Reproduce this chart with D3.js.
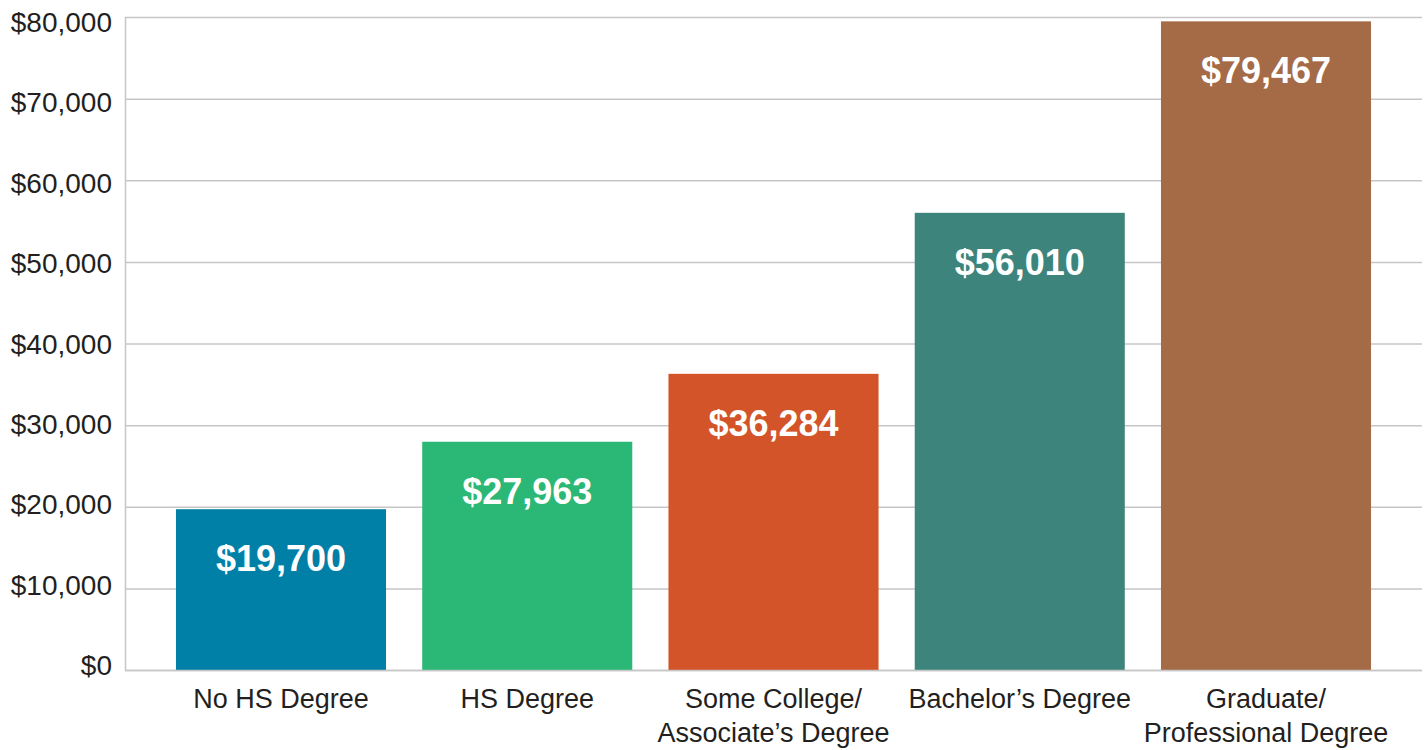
<!DOCTYPE html>
<html>
<head>
<meta charset="utf-8">
<script src="https://cdn.jsdelivr.net/npm/d3@7"></script>
<style>
  body { margin: 0; background: #fff; }
  text { font-family: "Liberation Sans", Arial, Helvetica, sans-serif; }
</style>
</head>
<body>
<div id="chart"></div>
<script>
// data
var categories = ["No HS Degree", "HS Degree", "Some College/\nAssociate\u2019s Degree", "Bachelor\u2019s Degree", "Graduate/\nProfessional Degree"];
var values = [19700, 27963, 36284, 56010, 79467];
var colors = ["#0180a7", "#2bb776", "#d25428", "#3d847c", "#a56a46"];
var yTicks = [0, 10000, 20000, 30000, 40000, 50000, 60000, 70000, 80000];

var width = 1427,
    height = 750;
var mLeft = 125, mRight = 1422, mTop = 17, mBottom = 670;

var svg = d3.select("#chart")
  .append("svg")
  .attr("width", width)
  .attr("height", height);

var x = d3.scaleBand()
  .domain(categories)
  .range([mLeft, mRight])
  .paddingInner(0.147)
  .paddingOuter(0.207);

var y = d3.scaleLinear()
  .domain([0, 80000])
  .range([mBottom, mTop]);

// labels sit a little inside the grid, like the original
var yLabel = d3.scaleLinear()
  .domain([0, 80000])
  .range([mBottom - 5, mTop + 5]);

var fmt = d3.format("$,");

// gridlines
svg.append("g")
  .selectAll("line")
  .data(yTicks)
  .enter().append("line")
  .attr("x1", mLeft)
  .attr("x2", mRight)
  .attr("y1", function (d) { return y(d) + 0.5 })
  .attr("y2", function (d) { return y(d) + 0.5 })
  .attr("stroke", "#c6c6c6")
  .attr("stroke-width", 1.5);

// left axis line
svg.append("line")
  .attr("x1", mLeft + 0.5)
  .attr("x2", mLeft + 0.5)
  .attr("y1", y(80000))
  .attr("y2", y(0) + 1)
  .attr("stroke", "#c6c6c6")
  .attr("stroke-width", 1.5);

// tick labels
svg.append("g")
  .selectAll("text")
  .data(yTicks)
  .enter().append("text")
  .attr("x", mLeft - 13)
  .attr("y", function (d) { return yLabel(d) })
  .attr("dy", "0.36em")
  .attr("text-anchor", "end")
  .attr("fill", "#231f20")
  .style("font-size", "28px")
  .text(fmt);

// bars
var data = categories.map(function (c, i) {
  return { cat: c, value: values[i], color: colors[i] }
});

svg.append("g")
  .selectAll("rect")
  .data(data)
  .enter().append("rect")
  .attr("x", function (d) { return x(d.cat) })
  .attr("y", function (d) { return y(d.value) })
  .attr("width", x.bandwidth())
  .attr("height", function (d) { return y(0) - y(d.value) })
  .attr("fill", function (d) { return d.color });

// redraw zero line over the bars
svg.append("line")
  .attr("x1", mLeft)
  .attr("x2", mRight)
  .attr("y1", y(0) + 0.5)
  .attr("y2", y(0) + 0.5)
  .attr("stroke", "#c6c6c6")
  .attr("stroke-width", 1.5);

// value labels inside bars
svg.append("g")
  .selectAll("text")
  .data(data)
  .enter().append("text")
  .attr("x", function (d) { return x(d.cat) + x.bandwidth() / 2 })
  .attr("y", function (d) { return y(d.value) + 62 })
  .attr("text-anchor", "middle")
  .attr("fill", "#fff")
  .style("font-size", "36px")
  .style("font-weight", "bold")
  .text(function (d) { return fmt(d.value) });

// category labels, may wrap on two lines
var catLabels = svg.append("g")
  .selectAll("text")
  .data(data)
  .enter().append("text")
  .attr("x", function (d) { return x(d.cat) + x.bandwidth() / 2 })
  .attr("y", 708)
  .attr("text-anchor", "middle")
  .attr("fill", "#231f20")
  .style("font-size", "27px");

catLabels.each(function (d) {
  var t = d3.select(this);
  d.cat.split("\n").forEach(function (line, i) {
    t.append("tspan")
      .attr("x", x(d.cat) + x.bandwidth() / 2)
      .attr("dy", i ? 34 : 0)
      .text(line);
  });
});
</script>
</body>
</html>
